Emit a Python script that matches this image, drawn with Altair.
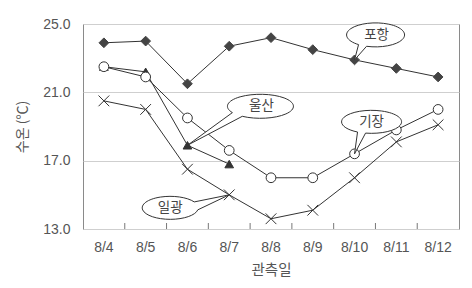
import json
import altair as alt
import pandas as pd

# ---- data ----
dates = ["8/4", "8/5", "8/6", "8/7", "8/8", "8/9", "8/10", "8/11", "8/12"]
pohang = [23.9, 24.0, 21.5, 23.7, 24.2, 23.5, 22.9, 22.4, 21.9]
ulsan = [22.5, 22.2, 17.9, 16.8]
gijang = [22.5, 21.9, 19.5, 17.6, 16.0, 16.0, 17.4, 18.8, 20.0]
ilgwang = [20.5, 20.0, 16.5, 15.0, 13.6, 14.1, 16.0, 18.1, 19.1]
series_names = ["포항", "울산", "기장", "일광"]
y_ticks = [13, 17, 21, 25]

# callout labels: which series / date each bubble points at
callout_series = ["포항", "울산", "기장", "일광"]
callout_dates = ["8/10", "8/6", "8/10", "8/7"]

values = {"포항": pohang, "울산": ulsan, "기장": gijang, "일광": ilgwang}
rows = []
for name in series_names:
    for d, v in zip(dates, values[name]):
        rows.append({"series": name, "date": d, "value": v})
df = pd.DataFrame(rows)

ann = pd.DataFrame({
    "label": callout_series,
    "date": callout_dates,
    "value": [values[s][dates.index(d)] for s, d in zip(callout_series, callout_dates)],
})
ticks_df = pd.DataFrame({"date": dates[1:]})

KR = "Noto Sans CJK KR"
LAT = "Liberation Sans"
INK = "#333333"

xscale = alt.Scale(domain=dates, paddingInner=0, paddingOuter=0)
yscale = alt.Scale(domain=[13, 25], nice=False, zero=False)

x_axis = alt.Axis(
    title="관측일", titleFont=KR, titleFontSize=14.5, titleFontWeight="normal",
    titleColor="#555", titleY=41, titleBaseline="middle",
    labelFont=LAT, labelFontSize=14, labelColor="#555", labelPadding=11,
    labelAngle=0, ticks=False, tickSize=0, domain=False, grid=False,
)
y_axis = alt.Axis(
    title="수온 (℃)", titleFont=KR, titleFontSize=14, titleFontWeight="normal",
    titleColor="#555", titleX=-61, titleY=102.5, titleAngle=270,
    titleAlign="center", titleBaseline="middle",
    values=y_ticks, format=".1f",
    labelFont=LAT, labelFontSize=14, labelColor="#555", labelPadding=13,
    ticks=False, tickSize=0, domain=False, grid=True, gridColor="#cfcfcf",
    gridWidth=1,
)

X = alt.X("date:N", scale=xscale, axis=x_axis, sort=dates)
Y = alt.Y("value:Q", scale=yscale, axis=y_axis)

base = alt.Chart(df)

lines = base.mark_line(color=INK, strokeWidth=1).encode(
    x=X, y=Y, detail="series:N"
)

def pts(name, **kw):
    return alt.Chart(df[df.series == name]).mark_point(opacity=1, **kw).encode(x=X, y=Y)

p_pohang = pts("포항", shape="diamond", size=95, filled=True, fill="#444", stroke="#444", strokeWidth=1)
p_ulsan = pts("울산", shape="triangle-up", size=75, filled=True, fill="#333", stroke="#333", strokeWidth=1)
p_gijang = pts("기장", shape="circle", size=95, filled=True, fill="white", stroke=INK, strokeWidth=1)
p_ilgwang = pts("일광", shape="M-1,-1L1,1M-1,1L1,-1", size=115, filled=False, stroke=INK, strokeWidth=1)

bottom_ticks = alt.Chart(ticks_df).mark_rule(color="#777", strokeWidth=1).encode(
    x=alt.X("date:N", scale=xscale, sort=dates, bandPosition=0, axis=x_axis),
    y=alt.value(205), y2=alt.value(199),
)

# speech-bubble shapes (pixel offsets from the pointed-at data point, size=4 -> scale 1)
bubble_shapes = {
    "포항": "M0,0L4,-15.28A29,12 0 1,1 12,-13.59Z",
    "울산": "M0,0L44.95,-32.68A33,12 0 1,1 54.85,-28.98Z",
    "기장": "M0,0L2.99,-21.83A30,11.5 0 1,1 11,-20.73Z",
    "일광": "M0,0L-31.42,15A28,11.5 0 1,1 -35,7.08Z",
}
text_offsets = {"포항": (22, -25), "울산": (74, -39), "기장": (17, -32), "일광": (-59, 13)}

callouts = []
for lab in callout_series:
    sub = alt.Chart(ann[ann.label == lab])
    callouts.append(sub.mark_point(
        shape=bubble_shapes[lab], size=4, filled=True, fill="white",
        stroke=INK, strokeWidth=1, opacity=1,
    ).encode(x=X, y=Y))
    dx, dy = text_offsets[lab]
    callouts.append(sub.mark_text(
        font=KR, fontSize=13.5, color="#444", dx=dx, dy=dy,
        align="center", baseline="middle",
    ).encode(x=X, y=Y, text="label:N"))

chart = alt.layer(
    lines, bottom_ticks, p_pohang, p_ulsan, p_gijang, p_ilgwang, *callouts
).properties(
    width=376, height=205,
    autosize=alt.AutoSizeParams(type="none"),
    padding={"left": 83, "top": 24, "right": 13, "bottom": 59},
    background="white",
).configure_view(stroke="#8a8a8a", strokeWidth=1)

chart.save("out.html", embed_options={"renderer": "svg", "actions": False})
